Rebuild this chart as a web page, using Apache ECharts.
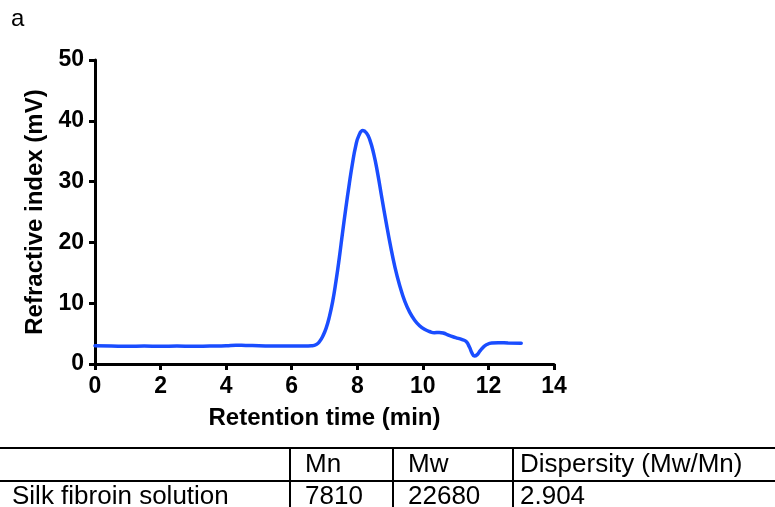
<!DOCTYPE html>
<html>
<head>
<meta charset="utf-8">
<script src="https://cdn.jsdelivr.net/npm/echarts@6/dist/echarts.min.js"></script>
<style>
  html, body { margin: 0; padding: 0; background: #fff; }
  #chart { width: 775px; height: 507px; }
</style>
</head>
<body>
<div id="chart"></div>
<script>
// GPC trace: retention time (min) vs refractive index signal (mV)
const retentionTime = [
  0, 0.5, 1, 1.5, 2, 2.5, 3, 3.5, 4, 4.3, 4.6, 5, 5.5, 6, 6.4, 6.6,
  6.75, 6.85, 6.95, 7.05, 7.15, 7.25, 7.35, 7.45, 7.55, 7.65, 7.75, 7.85, 7.95, 8.05, 8.17,
  8.28, 8.38, 8.5, 8.62, 8.75, 8.88, 9.0, 9.15, 9.3, 9.45, 9.6, 9.75, 9.9, 10.05, 10.2,
  10.35, 10.5, 10.62, 10.8, 11.0, 11.2, 11.32, 11.42, 11.5, 11.57, 11.65, 11.75, 11.85,
  11.95, 12.1, 12.3, 12.6, 13.0
];
const refractiveIndex = [
  3.0, 2.95, 2.9, 2.95, 2.9, 2.95, 2.9, 2.95, 3.0, 3.1, 3.05, 3.0, 2.95, 2.95, 2.95, 3.0,
  3.2, 3.7, 4.6, 5.9, 7.8, 10.3, 13.6, 17.4, 21.6, 25.6, 29.4, 32.9, 35.8, 37.6, 38.4,
  38.0, 36.9, 34.6, 31.4, 27.3, 23.3, 19.8, 15.9, 12.8, 10.3, 8.5, 7.2, 6.3, 5.7, 5.35,
  5.15, 5.2, 5.1, 4.7, 4.35, 4.0, 3.7, 2.8, 1.8, 1.3, 1.5, 2.2, 2.8,
  3.2, 3.45, 3.5, 3.45, 3.4
];

// Axis ranges and ticks
const xTicks = { min: 0, max: 14, step: 2 };
const yTicks = { min: 0, max: 50, step: 10 };

// Molecular weight summary table
const tableHeader = ['', 'Mn', 'Mw', 'Dispersity (Mw/Mn)'];
const sampleNames = ['Silk fibroin solution'];
const mnValues = ['7810'];
const mwValues = ['22680'];
const dispersityValues = ['2.904'];

const FONT = '"Liberation Sans", Arial, Helvetica, sans-serif';
const chart = echarts.init(document.getElementById('chart'));

// Table layout
const colX = [12, 305, 408, 520];
const rowY = [465, 497];
const tableLines = [
  { x1: 0, y1: 448, x2: 775, y2: 448 },
  { x1: 0, y1: 481, x2: 775, y2: 481 },
  { x1: 290, y1: 448, x2: 290, y2: 507 },
  { x1: 393, y1: 448, x2: 393, y2: 507 },
  { x1: 513, y1: 448, x2: 513, y2: 507 }
];

const graphics = [
  { type: 'text', left: 11, top: 7, style: { text: 'a', font: '24px ' + FONT, fill: '#000' } }
];
tableLines.forEach(l => graphics.push({
  type: 'line', shape: l, style: { stroke: '#000', lineWidth: 2 }
}));
tableHeader.forEach((t, i) => {
  if (t) graphics.push({
    type: 'text', x: colX[i], y: rowY[0],
    style: { text: t, font: '26px ' + FONT, fill: '#000', verticalAlign: 'middle', align: 'left' }
  });
});
sampleNames.forEach((name, r) => {
  const cells = [name, mnValues[r], mwValues[r], dispersityValues[r]];
  cells.forEach((t, i) => graphics.push({
    type: 'text', x: colX[i], y: rowY[1 + r],
    style: { text: t, font: '26px ' + FONT, fill: '#000', verticalAlign: 'middle', align: 'left' }
  }));
});

const axisCommon = {
  axisLine: { show: true, lineStyle: { color: '#000', width: 3 } },
  axisTick: { show: true, inside: false, length: 6, lineStyle: { color: '#000', width: 3 } },
  splitLine: { show: false },
  nameLocation: 'middle',
  nameTextStyle: { fontFamily: FONT, fontWeight: 'bold', fontSize: 24, color: '#000' }
};

chart.setOption({
  animation: false,
  backgroundColor: '#fff',
  grid: { left: 95, right: 221, top: 60, bottom: 143, outerBoundsMode: 'none' },
  xAxis: Object.assign({}, axisCommon, {
    type: 'value',
    min: xTicks.min, max: xTicks.max, interval: xTicks.step,
    name: 'Retention time (min)',
    nameGap: 42,
    axisLabel: { margin: 11, fontFamily: FONT, fontWeight: 'bold', fontSize: 23, color: '#000' }
  }),
  yAxis: Object.assign({}, axisCommon, {
    type: 'value',
    min: yTicks.min, max: yTicks.max, interval: yTicks.step,
    name: 'Refractive index (mV)',
    nameGap: 46,
    axisLabel: { margin: 11, fontFamily: FONT, fontWeight: 'bold', fontSize: 23, color: '#000' }
  }),
  series: [{
    type: 'line',
    data: retentionTime.map((t, i) => [t, refractiveIndex[i]]),
    showSymbol: false,
    smooth: 0.5,
    lineStyle: { color: '#1a4dff', width: 3.5, join: 'round', cap: 'round' },
    itemStyle: { color: '#1a4dff' }
  }],
  graphic: graphics
});
</script>
</body>
</html>
